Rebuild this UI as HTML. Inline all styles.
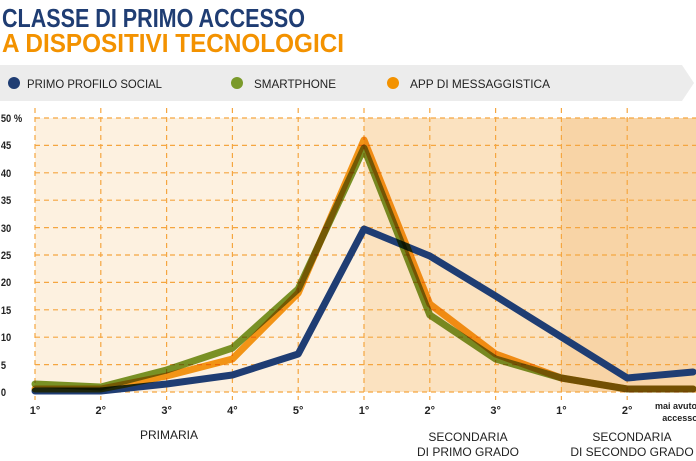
<!DOCTYPE html><html><head><meta charset="utf-8"><style>
body{margin:0;width:696px;height:461px;background:#fff;overflow:hidden;font-family:"Liberation Sans",sans-serif}
svg{position:absolute;left:0;top:0}
</style></head><body>
<svg width="696" height="461" viewBox="0 0 696 461">
<g font-family="Liberation Sans, sans-serif" font-weight="bold">
<text x="2" y="27" font-size="26" fill="#1f3d73" textLength="303" lengthAdjust="spacingAndGlyphs">CLASSE DI PRIMO ACCESSO</text>
<text x="2" y="52" font-size="26" fill="#f39200" textLength="342" lengthAdjust="spacingAndGlyphs">A DISPOSITIVI TECNOLOGICI</text>
</g>
<polygon points="0,65 682,65 694,83 682,101 0,101" fill="#ececec"/>
<circle cx="14" cy="83" r="6" fill="#1f3d73"/><circle cx="237" cy="83" r="6" fill="#7a9a2a"/><circle cx="393" cy="83" r="6" fill="#f39200"/>
<g font-size="12" fill="#222"><text x="27" y="88" textLength="135" lengthAdjust="spacingAndGlyphs">PRIMO PROFILO SOCIAL</text><text x="254" y="88" textLength="82" lengthAdjust="spacingAndGlyphs">SMARTPHONE</text><text x="410" y="88" textLength="140" lengthAdjust="spacingAndGlyphs">APP DI MESSAGGISTICA</text></g>
<rect x="35" y="118" width="329" height="274" fill="#fdf1e0"/>
<rect x="364" y="118" width="197" height="274" fill="#fbe2c0"/>
<rect x="561" y="118" width="135" height="274" fill="#f8d4a6"/>
<g stroke="#f5a640" stroke-width="1.2" stroke-dasharray="5,4">
<line x1="35" x2="696" y1="118" y2="118"/><line x1="35" x2="696" y1="145.4" y2="145.4"/><line x1="35" x2="696" y1="172.8" y2="172.8"/><line x1="35" x2="696" y1="200.2" y2="200.2"/><line x1="35" x2="696" y1="227.6" y2="227.6"/><line x1="35" x2="696" y1="255" y2="255"/><line x1="35" x2="696" y1="282.4" y2="282.4"/><line x1="35" x2="696" y1="309.8" y2="309.8"/><line x1="35" x2="696" y1="337.2" y2="337.2"/><line x1="35" x2="696" y1="364.6" y2="364.6"/><line x1="35" x2="696" y1="392" y2="392"/>
<line x1="35" x2="35" y1="108" y2="400"/><line x1="100.8" x2="100.8" y1="108" y2="400"/><line x1="166.6" x2="166.6" y1="108" y2="400"/><line x1="232.4" x2="232.4" y1="108" y2="400"/><line x1="298.2" x2="298.2" y1="108" y2="400"/><line x1="364" x2="364" y1="108" y2="400"/><line x1="429.8" x2="429.8" y1="108" y2="400"/><line x1="495.6" x2="495.6" y1="108" y2="400"/><line x1="561.4" x2="561.4" y1="108" y2="400"/><line x1="627.2" x2="627.2" y1="108" y2="400"/>
</g>
<g font-size="11" font-weight="bold" fill="#222" transform="scale(0.85,1)">
<text x="1" y="122">50 %</text><text x="1" y="149">45</text><text x="1" y="177">40</text><text x="1" y="204">35</text><text x="1" y="232">30</text><text x="1" y="259">25</text><text x="1" y="286">20</text><text x="1" y="314">15</text><text x="1" y="341">10</text><text x="1" y="369">5</text><text x="1" y="396">0</text>
</g>
<g fill="none" stroke-width="7" stroke-linejoin="round" stroke-linecap="round">
<polyline stroke="#1f3d73" points="35,391 100.8,391 166.6,384 232.4,375 298.2,354 364,229 429.8,256 495.6,296 561.4,337 627.2,378 693,372"/>
<polyline stroke="#7a9a2a" style="mix-blend-mode:multiply" points="35,384 100.8,387 166.6,370 232.4,348 298.2,289 364,148 429.8,315 495.6,359 561.4,378 627.2,389 693,389"/>
<polyline stroke="#f39200" style="mix-blend-mode:multiply" opacity="0.9" points="35,389 100.8,389 166.6,376 232.4,359 298.2,293 364,140 429.8,304 495.6,354 561.4,378 627.2,389 693,389"/>
</g>
<g font-size="11" font-weight="bold" fill="#222" text-anchor="middle">
<text x="35" y="414">1°</text><text x="100.8" y="414">2°</text><text x="166.6" y="414">3°</text><text x="232.4" y="414">4°</text><text x="298.2" y="414">5°</text><text x="364" y="414">1°</text><text x="429.8" y="414">2°</text><text x="495.6" y="414">3°</text><text x="561.4" y="414">1°</text><text x="627.2" y="414">2°</text>
<text x="676" y="409" font-size="9">mai avuto</text><text x="680" y="421" font-size="9">accesso</text>
</g>
<g font-size="12" fill="#222" text-anchor="middle">
<text x="169" y="439">PRIMARIA</text>
<text x="468" y="441">SECONDARIA</text><text x="468" y="456">DI PRIMO GRADO</text>
<text x="632" y="441">SECONDARIA</text><text x="632" y="456">DI SECONDO GRADO</text>
</g>
</svg>
</body></html>
